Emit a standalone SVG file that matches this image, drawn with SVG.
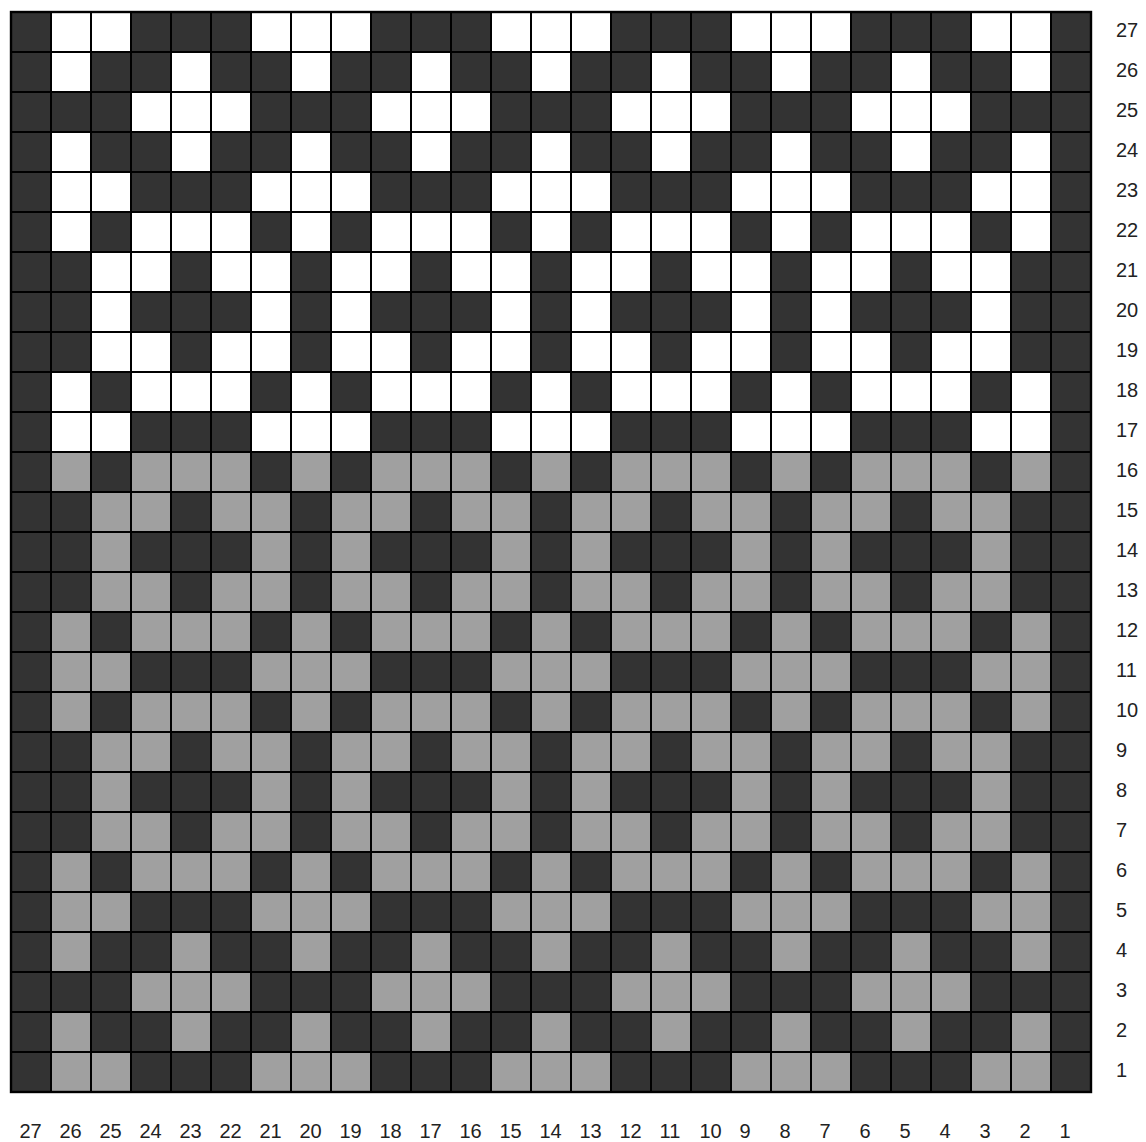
<svg xmlns="http://www.w3.org/2000/svg" xmlns:xlink="http://www.w3.org/1999/xlink" width="1146" height="1142" viewBox="0 0 1146 1142">
<style>
.w{fill:#ffffff}
.g{fill:#a0a0a0}
.lbl{font-family:"Liberation Sans",Arial,sans-serif;font-size:20px;fill:#222}
.bl{text-anchor:start}
</style>
<defs>
<g id="A"><rect x="40" y="0" width="80" height="40"/><rect x="240" y="0" width="120" height="40"/><rect x="480" y="0" width="120" height="40"/><rect x="720" y="0" width="120" height="40"/><rect x="960" y="0" width="80" height="40"/></g>
<g id="B"><rect x="40" y="0" width="40" height="40"/><rect x="160" y="0" width="40" height="40"/><rect x="280" y="0" width="40" height="40"/><rect x="400" y="0" width="40" height="40"/><rect x="520" y="0" width="40" height="40"/><rect x="640" y="0" width="40" height="40"/><rect x="760" y="0" width="40" height="40"/><rect x="880" y="0" width="40" height="40"/><rect x="1000" y="0" width="40" height="40"/></g>
<g id="C"><rect x="120" y="0" width="120" height="40"/><rect x="360" y="0" width="120" height="40"/><rect x="600" y="0" width="120" height="40"/><rect x="840" y="0" width="120" height="40"/></g>
<g id="D"><rect x="40" y="0" width="40" height="40"/><rect x="120" y="0" width="120" height="40"/><rect x="280" y="0" width="40" height="40"/><rect x="360" y="0" width="120" height="40"/><rect x="520" y="0" width="40" height="40"/><rect x="600" y="0" width="120" height="40"/><rect x="760" y="0" width="40" height="40"/><rect x="840" y="0" width="120" height="40"/><rect x="1000" y="0" width="40" height="40"/></g>
<g id="E"><rect x="80" y="0" width="80" height="40"/><rect x="200" y="0" width="80" height="40"/><rect x="320" y="0" width="80" height="40"/><rect x="440" y="0" width="80" height="40"/><rect x="560" y="0" width="80" height="40"/><rect x="680" y="0" width="80" height="40"/><rect x="800" y="0" width="80" height="40"/><rect x="920" y="0" width="80" height="40"/></g>
<g id="F"><rect x="80" y="0" width="40" height="40"/><rect x="240" y="0" width="40" height="40"/><rect x="320" y="0" width="40" height="40"/><rect x="480" y="0" width="40" height="40"/><rect x="560" y="0" width="40" height="40"/><rect x="720" y="0" width="40" height="40"/><rect x="800" y="0" width="40" height="40"/><rect x="960" y="0" width="40" height="40"/></g>
</defs>
<rect width="1146" height="1142" fill="#ffffff"/>
<g id="chart">
<rect x="11" y="12" width="1080" height="1080" fill="#333333"/>
<use xlink:href="#A" href="#A" x="11" y="12" class="w"/>
<use xlink:href="#B" href="#B" x="11" y="52" class="w"/>
<use xlink:href="#C" href="#C" x="11" y="92" class="w"/>
<use xlink:href="#B" href="#B" x="11" y="132" class="w"/>
<use xlink:href="#A" href="#A" x="11" y="172" class="w"/>
<use xlink:href="#D" href="#D" x="11" y="212" class="w"/>
<use xlink:href="#E" href="#E" x="11" y="252" class="w"/>
<use xlink:href="#F" href="#F" x="11" y="292" class="w"/>
<use xlink:href="#E" href="#E" x="11" y="332" class="w"/>
<use xlink:href="#D" href="#D" x="11" y="372" class="w"/>
<use xlink:href="#A" href="#A" x="11" y="412" class="w"/>
<use xlink:href="#D" href="#D" x="11" y="452" class="g"/>
<use xlink:href="#E" href="#E" x="11" y="492" class="g"/>
<use xlink:href="#F" href="#F" x="11" y="532" class="g"/>
<use xlink:href="#E" href="#E" x="11" y="572" class="g"/>
<use xlink:href="#D" href="#D" x="11" y="612" class="g"/>
<use xlink:href="#A" href="#A" x="11" y="652" class="g"/>
<use xlink:href="#D" href="#D" x="11" y="692" class="g"/>
<use xlink:href="#E" href="#E" x="11" y="732" class="g"/>
<use xlink:href="#F" href="#F" x="11" y="772" class="g"/>
<use xlink:href="#E" href="#E" x="11" y="812" class="g"/>
<use xlink:href="#D" href="#D" x="11" y="852" class="g"/>
<use xlink:href="#A" href="#A" x="11" y="892" class="g"/>
<use xlink:href="#B" href="#B" x="11" y="932" class="g"/>
<use xlink:href="#C" href="#C" x="11" y="972" class="g"/>
<use xlink:href="#B" href="#B" x="11" y="1012" class="g"/>
<use xlink:href="#A" href="#A" x="11" y="1052" class="g"/>
</g>
<g id="gridlines" fill="none" stroke="#000" stroke-width="2">
<path d="M11 12V1092M51 12V1092M91 12V1092M131 12V1092M171 12V1092M211 12V1092M251 12V1092M291 12V1092M331 12V1092M371 12V1092M411 12V1092M451 12V1092M491 12V1092M531 12V1092M571 12V1092M611 12V1092M651 12V1092M691 12V1092M731 12V1092M771 12V1092M811 12V1092M851 12V1092M891 12V1092M931 12V1092M971 12V1092M1011 12V1092M1051 12V1092M1091 12V1092"/>
<path d="M11 12H1091M11 52H1091M11 92H1091M11 132H1091M11 172H1091M11 212H1091M11 252H1091M11 292H1091M11 332H1091M11 372H1091M11 412H1091M11 452H1091M11 492H1091M11 532H1091M11 572H1091M11 612H1091M11 652H1091M11 692H1091M11 732H1091M11 772H1091M11 812H1091M11 852H1091M11 892H1091M11 932H1091M11 972H1091M11 1012H1091M11 1052H1091M11 1092H1091"/>
<rect x="11" y="12" width="1080" height="1080" stroke-width="2.4"/>
</g>
<g id="row-labels" class="lbl">
<text x="1116" y="36.5">27</text>
<text x="1116" y="76.5">26</text>
<text x="1116" y="116.5">25</text>
<text x="1116" y="156.5">24</text>
<text x="1116" y="196.5">23</text>
<text x="1116" y="236.5">22</text>
<text x="1116" y="276.5">21</text>
<text x="1116" y="316.5">20</text>
<text x="1116" y="356.5">19</text>
<text x="1116" y="396.5">18</text>
<text x="1116" y="436.5">17</text>
<text x="1116" y="476.5">16</text>
<text x="1116" y="516.5">15</text>
<text x="1116" y="556.5">14</text>
<text x="1116" y="596.5">13</text>
<text x="1116" y="636.5">12</text>
<text x="1116" y="676.5">11</text>
<text x="1116" y="716.5">10</text>
<text x="1116" y="756.5">9</text>
<text x="1116" y="796.5">8</text>
<text x="1116" y="836.5">7</text>
<text x="1116" y="876.5">6</text>
<text x="1116" y="916.5">5</text>
<text x="1116" y="956.5">4</text>
<text x="1116" y="996.5">3</text>
<text x="1116" y="1036.5">2</text>
<text x="1116" y="1076.5">1</text>
</g>
<g id="col-labels" class="lbl">
<text x="19.5" y="1138">27</text>
<text x="59.5" y="1138">26</text>
<text x="99.5" y="1138">25</text>
<text x="139.5" y="1138">24</text>
<text x="179.5" y="1138">23</text>
<text x="219.5" y="1138">22</text>
<text x="259.5" y="1138">21</text>
<text x="299.5" y="1138">20</text>
<text x="339.5" y="1138">19</text>
<text x="379.5" y="1138">18</text>
<text x="419.5" y="1138">17</text>
<text x="459.5" y="1138">16</text>
<text x="499.5" y="1138">15</text>
<text x="539.5" y="1138">14</text>
<text x="579.5" y="1138">13</text>
<text x="619.5" y="1138">12</text>
<text x="659.5" y="1138">11</text>
<text x="699.5" y="1138">10</text>
<text x="739.5" y="1138">9</text>
<text x="779.5" y="1138">8</text>
<text x="819.5" y="1138">7</text>
<text x="859.5" y="1138">6</text>
<text x="899.5" y="1138">5</text>
<text x="939.5" y="1138">4</text>
<text x="979.5" y="1138">3</text>
<text x="1019.5" y="1138">2</text>
<text x="1059.5" y="1138">1</text>
</g>
</svg>
